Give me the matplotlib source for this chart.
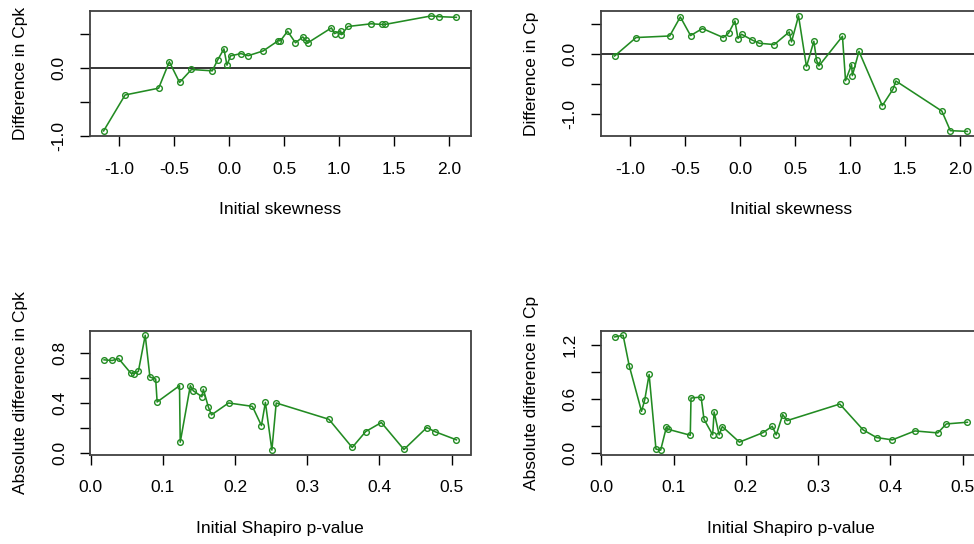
import matplotlib
matplotlib.use('Agg')
import matplotlib.pyplot as plt
from matplotlib.ticker import FixedLocator, FixedFormatter

plt.rcParams['font.family'] = ['Liberation Sans', 'DejaVu Sans']
plt.rcParams['axes.unicode_minus'] = False

# Change in capability indices after transformation, per sample
skewness = [-1.14, -0.945, -0.64, -0.543, -0.45, -0.342, -0.153, -0.105, -0.047, -0.019,
            0.013, 0.108, 0.175, 0.31, 0.446, 0.467, 0.531, 0.603, 0.67, 0.695,
            0.716, 0.93, 0.958, 1.013, 1.02, 1.08, 1.292, 1.39, 1.415, 1.833,
            1.91, 2.065]
cpk_diff = [-0.93, -0.40, -0.30, 0.09, -0.215, -0.024, -0.044, 0.113, 0.28, 0.04,
            0.177, 0.21, 0.18, 0.25, 0.40, 0.40, 0.54, 0.37, 0.456, 0.41,
            0.37, 0.59, 0.505, 0.545, 0.49, 0.61, 0.65, 0.64, 0.64, 0.765,
            0.755, 0.745]
cp_diff = [-0.04, 0.267, 0.293, 0.61, 0.30, 0.417, 0.267, 0.338, 0.543, 0.25,
           0.322, 0.227, 0.172, 0.15, 0.36, 0.195, 0.627, -0.217, 0.205, -0.112,
           -0.206, 0.288, -0.45, -0.183, -0.367, 0.038, -0.867, -0.59, -0.456, -0.957,
           -1.283, -1.295]

shapiro_p = [0.0185, 0.030, 0.0385, 0.0555, 0.060, 0.066, 0.0755, 0.082, 0.090, 0.092,
             0.123, 0.124, 0.138, 0.142, 0.154, 0.156, 0.163, 0.1673, 0.191, 0.224,
             0.2365, 0.242, 0.251, 0.257, 0.330, 0.3623, 0.381, 0.4027, 0.434, 0.4657,
             0.4775, 0.5067]
abs_cpk = [0.744, 0.739, 0.755, 0.638, 0.633, 0.652, 0.940, 0.607, 0.591, 0.408,
           0.538, 0.087, 0.538, 0.498, 0.450, 0.509, 0.368, 0.305, 0.400, 0.373,
           0.220, 0.405, 0.024, 0.400, 0.270, 0.045, 0.172, 0.244, 0.029, 0.204,
           0.170, 0.106]
abs_cp = [1.293, 1.311, 0.970, 0.463, 0.593, 0.874, 0.041, 0.030, 0.289, 0.263,
          0.196, 0.611, 0.622, 0.374, 0.200, 0.456, 0.200, 0.293, 0.119, 0.226,
          0.296, 0.200, 0.426, 0.359, 0.544, 0.256, 0.170, 0.144, 0.244, 0.222,
          0.322, 0.341]

skew_ticks = [-1.0, -0.5, 0.0, 0.5, 1.0, 1.5, 2.0]
skew_labels = ['-1.0', '-0.5', '0.0', '0.5', '1.0', '1.5', '2.0']
p_ticks = [0.0, 0.1, 0.2, 0.3, 0.4, 0.5]
p_labels = ['0.0', '0.1', '0.2', '0.3', '0.4', '0.5']

W, H = 974, 544
fig = plt.figure(figsize=(W / 100, H / 100), dpi=100)

GREEN = '#228B22'
FS = 12.5


def make_axes(x0, y0, x1, y1):
    # pixel box -> figure fraction
    return fig.add_axes([x0 / W, 1 - y1 / H, (x1 - x0) / W, (y1 - y0) / H])


def style(ax, xt, xl, yt, yl, xlabel, ylabel, zero_line=False):
    ax.margins(x=0.04, y=0.04)
    if zero_line:
        ax.axhline(0, color='black', lw=1.1, zorder=1)
    ax.xaxis.set_major_locator(FixedLocator(xt))
    ax.xaxis.set_major_formatter(FixedFormatter(xl))
    ax.yaxis.set_major_locator(FixedLocator(yt))
    ax.yaxis.set_major_formatter(FixedFormatter(yl))
    ax.tick_params(direction='out', length=7, width=1.0, color='black',
                   labelsize=FS)
    ax.tick_params(axis='x', pad=11.5)
    ax.tick_params(axis='y', pad=9.5)
    for lbl in ax.get_yticklabels():
        lbl.set_rotation(90)
        lbl.set_va('center')
    for s in ax.spines.values():
        s.set_color('#404040')
        s.set_linewidth(1.3)
    ax.set_xlabel(xlabel, fontsize=FS, labelpad=18.5)
    ax.set_ylabel(ylabel, fontsize=FS, labelpad=17)


def draw(ax, x, y):
    ax.plot(x, y, color=GREEN, lw=1.15, marker='o', markersize=4.1,
            markerfacecolor='none', markeredgecolor=GREEN, markeredgewidth=1.0,
            zorder=3)


# top left: Cpk vs skewness
ax1 = make_axes(89.5, 11.3, 470.5, 136)
draw(ax1, skewness, cpk_diff)
style(ax1, skew_ticks, skew_labels, [-1.0, -0.5, 0.0, 0.5], ['-1.0', '', '0.0', ''],
      'Initial skewness', 'Difference in Cpk', zero_line=True)
ax1.set_ylim(-1.005, 0.834)

# top right: Cp vs skewness
ax2 = make_axes(600.5, 11.3, 981.5, 136)
draw(ax2, skewness, cp_diff)
style(ax2, skew_ticks, skew_labels, [-1.0, -0.5, 0.0, 0.5], ['-1.0', '', '0.0', ''],
      'Initial skewness', 'Difference in Cp', zero_line=True)

# bottom left: |Cpk| vs Shapiro p
ax3 = make_axes(90, 330.7, 470.5, 454.7)
draw(ax3, shapiro_p, abs_cpk)
style(ax3, p_ticks, p_labels, [0.0, 0.2, 0.4, 0.6, 0.8], ['0.0', '', '0.4', '', '0.8'],
      'Initial Shapiro p-value', 'Absolute difference in Cpk')

# bottom right: |Cp| vs Shapiro p
ax4 = make_axes(600.7, 330.7, 981.5, 454.7)
draw(ax4, shapiro_p, abs_cp)
style(ax4, p_ticks, p_labels, [0.0, 0.3, 0.6, 0.9, 1.2], ['0.0', '', '0.6', '', '1.2'],
      'Initial Shapiro p-value', 'Absolute difference in Cp')

fig.savefig('out.png', dpi=100, facecolor='white')
